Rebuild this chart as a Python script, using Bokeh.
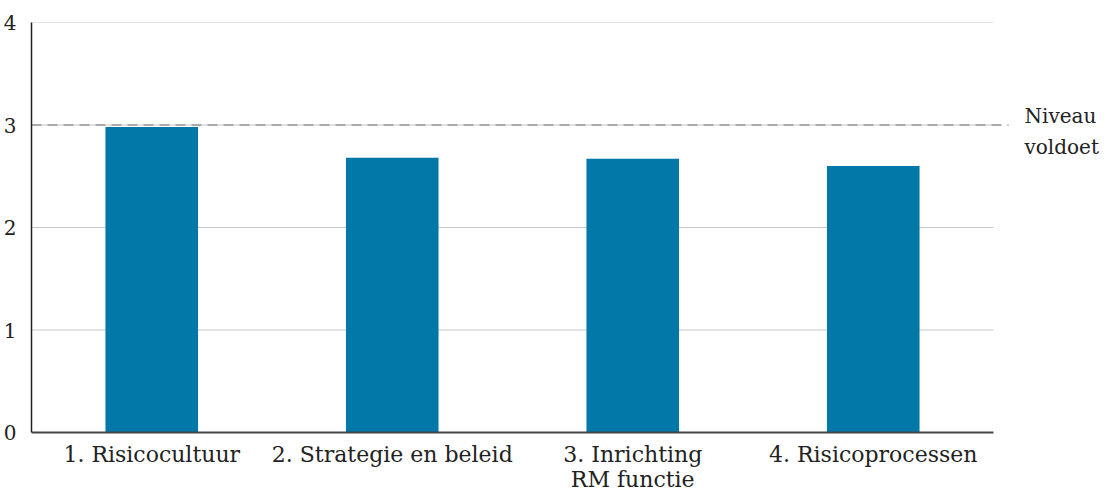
from bokeh.plotting import figure
from bokeh.models import Range1d, FixedTicker, Label, ColumnDataSource
from bokeh.embed import file_html
from bokeh.resources import INLINE

categories = ["1. Risicocultuur", "2. Strategie en beleid", "3. Inrichting\nRM functie", "4. Risicoprocessen"]
scores = [2.98, 2.68, 2.67, 2.60]
threshold = 3
threshold_label = "Niveau\nvoldoet"
y_ticks = [0, 1, 2, 3, 4]

FONT = "DejaVu Serif"
n = len(categories)
xs = list(range(1, n + 1))

border_left, border_top = 28, 22
total_h = 491
frame_w = 1070
px_per_cat = 240.5      # horizontal pixels per category
px_per_unit = 102.5     # vertical pixels per score unit
frame_h = total_h - border_top
x0 = 0.5
x_end = x0 + frame_w / px_per_cat
y_top = max(y_ticks)
y_bottom = y_top - frame_h / px_per_unit

p = figure(frame_width=frame_w, frame_height=frame_h, output_backend="svg", toolbar_location=None,
           x_range=Range1d(x0, x_end), y_range=Range1d(y_bottom, y_top),
           min_border_left=border_left, min_border_right=0, min_border_top=border_top,
           min_border_bottom=0)
p.outline_line_color = None
p.background_fill_color = "white"

# grid lines (bounded to the category area)
p.xgrid.grid_line_color = None
p.ygrid.grid_line_color = None
grid_src = ColumnDataSource(dict(y=y_ticks[1:]))
p.segment(x0=x0, x1=n + 0.5, y0="y", y1="y", source=grid_src, line_color="#c8c8c8", line_width=1)

src = ColumnDataSource(dict(x=xs, top=scores))
p.vbar(x="x", top="top", bottom=0, width=0.385, source=src, color="#0178A8", line_color=None)

# baseline (x axis line)
p.segment(x0=x0, x1=n + 0.5, y0=0, y1=0, line_color="#444444", line_width=2)

# threshold dashed line
ext = (1010 - 995) / px_per_cat
p.line(x=[x0, n + 0.5 + ext], y=[threshold, threshold], line_color="#aaaaaa",
       line_width=2, line_dash="10 6")
p.add_layout(Label(x=n + 0.5 + (1026 - 995) / px_per_cat, y=threshold, text=threshold_label,
                   text_font=FONT, text_font_size="20px", text_color="#222222",
                   text_baseline="top", y_offset=21, text_line_height=1.3))

# category labels
for xv, cat in zip(xs, categories):
    p.add_layout(Label(x=xv, y=0, text=cat, text_font=FONT,
                       text_font_size="22px", text_color="#222222", text_align="center",
                       text_baseline="top", y_offset=-9, text_line_height=1.02))

# axes
p.xaxis.visible = False

p.yaxis.ticker = FixedTicker(ticks=y_ticks)
p.yaxis.bounds = (0, y_top)
p.yaxis.axis_line_color = "#222222"
p.yaxis.axis_line_width = 1.5
p.yaxis.major_tick_line_color = None
p.yaxis.minor_tick_line_color = None
p.yaxis.major_label_text_font = FONT
p.yaxis.major_label_text_font_size = "20px"
p.yaxis.major_label_text_color = "#222222"
p.yaxis.major_label_standoff = 9

open("out.html", "w").write(file_html(p, INLINE))
